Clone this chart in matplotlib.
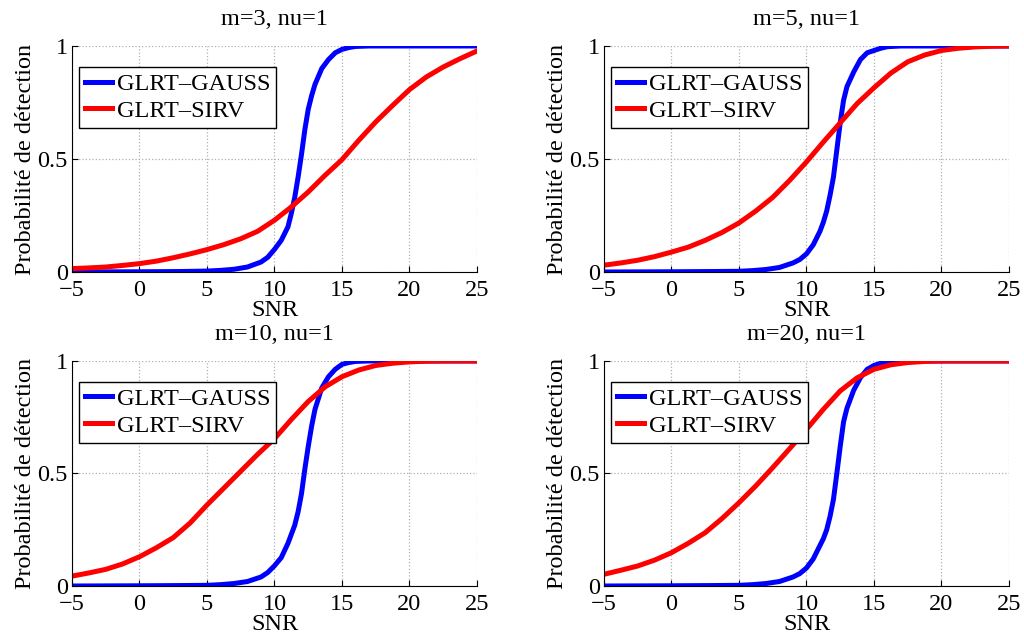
import numpy as np
import matplotlib
matplotlib.use("Agg")
import matplotlib.pyplot as plt

plt.rcParams['font.family'] = ['Liberation Serif', 'DejaVu Serif']

# courbes (SNR en dB, probabilité de détection)
snr_gauss = [-5, 0, 3, 5, 6, 7, 8, 9, 9.5, 10, 10.5, 11, 11.25, 11.5, 11.75, 12, 12.25,
             12.5, 12.75, 13, 13.5, 14, 14.5, 15, 15.5, 16, 17, 25]
pd_gauss_m3 = [0, 0.001, 0.002, 0.004, 0.007, 0.012, 0.022, 0.044, 0.065, 0.10, 0.14, 0.20, 0.26, 0.33,
               0.42, 0.52, 0.63, 0.72, 0.78, 0.83, 0.90, 0.94, 0.97, 0.985, 0.993, 0.998, 1.0, 1.0]
pd_gauss_m5 = [0, 0.001, 0.002, 0.003, 0.006, 0.011, 0.02, 0.04, 0.055, 0.08, 0.12, 0.18, 0.22, 0.27,
               0.34, 0.42, 0.54, 0.66, 0.76, 0.82, 0.885, 0.94, 0.97, 0.98, 0.99, 0.997, 1.0, 1.0]
pd_gauss_m10 = [0, 0.001, 0.002, 0.003, 0.006, 0.011, 0.02, 0.04, 0.06, 0.09, 0.126, 0.19, 0.23, 0.27,
                0.33, 0.41, 0.52, 0.62, 0.71, 0.785, 0.88, 0.93, 0.963, 0.985, 0.993, 0.998, 1.0, 1.0]
pd_gauss_m20 = [0, 0.001, 0.002, 0.003, 0.006, 0.011, 0.02, 0.04, 0.055, 0.08, 0.12, 0.18, 0.21, 0.25,
                0.31, 0.385, 0.50, 0.62, 0.73, 0.79, 0.87, 0.926, 0.963, 0.98, 0.99, 0.997, 1.0, 1.0]

snr_sirv = [-5, -3.75, -2.5, -1.25, 0, 1.25, 2.5, 3.75, 5, 6.25, 7.5, 8.75, 10, 11.25, 12.5,
            13.75, 15, 16.25, 17.5, 18.75, 20, 21.25, 22.5, 23.75, 25]
pd_sirv_m3 = [0.015, 0.018, 0.022, 0.029, 0.037, 0.048, 0.063, 0.08, 0.099, 0.121, 0.147, 0.18, 0.229,
              0.288, 0.354, 0.428, 0.497, 0.583, 0.664, 0.737, 0.807, 0.863, 0.907, 0.944, 0.978]
pd_sirv_m5 = [0.03, 0.04, 0.052, 0.068, 0.088, 0.11, 0.14, 0.175, 0.217, 0.27, 0.33, 0.405, 0.487,
              0.575, 0.66, 0.745, 0.815, 0.88, 0.93, 0.96, 0.98, 0.99, 0.996, 0.999, 1.0]
pd_sirv_m10 = [0.044, 0.058, 0.074, 0.098, 0.13, 0.17, 0.215, 0.28, 0.36, 0.435, 0.51, 0.585, 0.655,
               0.74, 0.82, 0.885, 0.93, 0.96, 0.98, 0.99, 0.996, 0.999, 1.0, 1.0, 1.0]
pd_sirv_m20 = [0.052, 0.07, 0.089, 0.115, 0.148, 0.19, 0.237, 0.3, 0.37, 0.445, 0.526, 0.61, 0.696,
               0.785, 0.867, 0.925, 0.963, 0.983, 0.993, 0.998, 1.0, 1.0, 1.0, 1.0, 1.0]

titles = ['m=3, nu=1', 'm=5, nu=1', 'm=10, nu=1', 'm=20, nu=1']
gauss = [pd_gauss_m3, pd_gauss_m5, pd_gauss_m10, pd_gauss_m20]
sirv = [pd_sirv_m3, pd_sirv_m5, pd_sirv_m10, pd_sirv_m20]

fig = plt.figure(figsize=(10.24, 6.38), dpi=100)

# positions des axes (fraction de la figure)
positions = [
    [0.0703, 0.5737, 0.3955, 0.3542],
    [0.5898, 0.5737, 0.3955, 0.3542],
    [0.0703, 0.0815, 0.3955, 0.3527],
    [0.5898, 0.0815, 0.3955, 0.3527],
]

fs = 17.5
for i in range(4):
    ax = fig.add_axes(positions[i])
    ax.plot(snr_gauss, gauss[i], color='#0000ff', lw=3.6, label='GLRT–GAUSS',
            solid_joinstyle='round')
    ax.plot(snr_sirv, sirv[i], color='#ff0000', lw=3.6, label='GLRT–SIRV',
            solid_joinstyle='round')
    ax.set_xlim(-5, 25)
    ax.set_ylim(0, 1)
    ax.set_xticks([-5, 0, 5, 10, 15, 20, 25])
    ax.set_yticks([0, 0.5, 1])
    ax.set_yticklabels(['0', '0.5', '1'])
    ax.grid(True, linestyle=':', color='#b0b0b0', linewidth=0.9)
    ax.spines['top'].set_visible(False)
    ax.spines['right'].set_visible(False)
    ax.tick_params(direction='in', length=4, labelsize=fs)
    ax.tick_params(axis='x', pad=6)
    ax.tick_params(axis='y', pad=3)
    ax.set_title(titles[i], fontsize=fs, pad=15)
    ax.set_xlabel('SNR', fontsize=fs, labelpad=-1)
    ax.set_ylabel('Probabilité de détection', fontsize=fs, labelpad=1)
    leg = ax.legend(loc='upper left', bbox_to_anchor=(0.017, 0.907), borderaxespad=0,
                    fontsize=fs, handlelength=1.1, handletextpad=0.2, borderpad=0.25,
                    labelspacing=0.2, fancybox=False, framealpha=1, edgecolor='black')
    leg.get_frame().set_linewidth(1.0)

fig.savefig('out.png', dpi=100)
